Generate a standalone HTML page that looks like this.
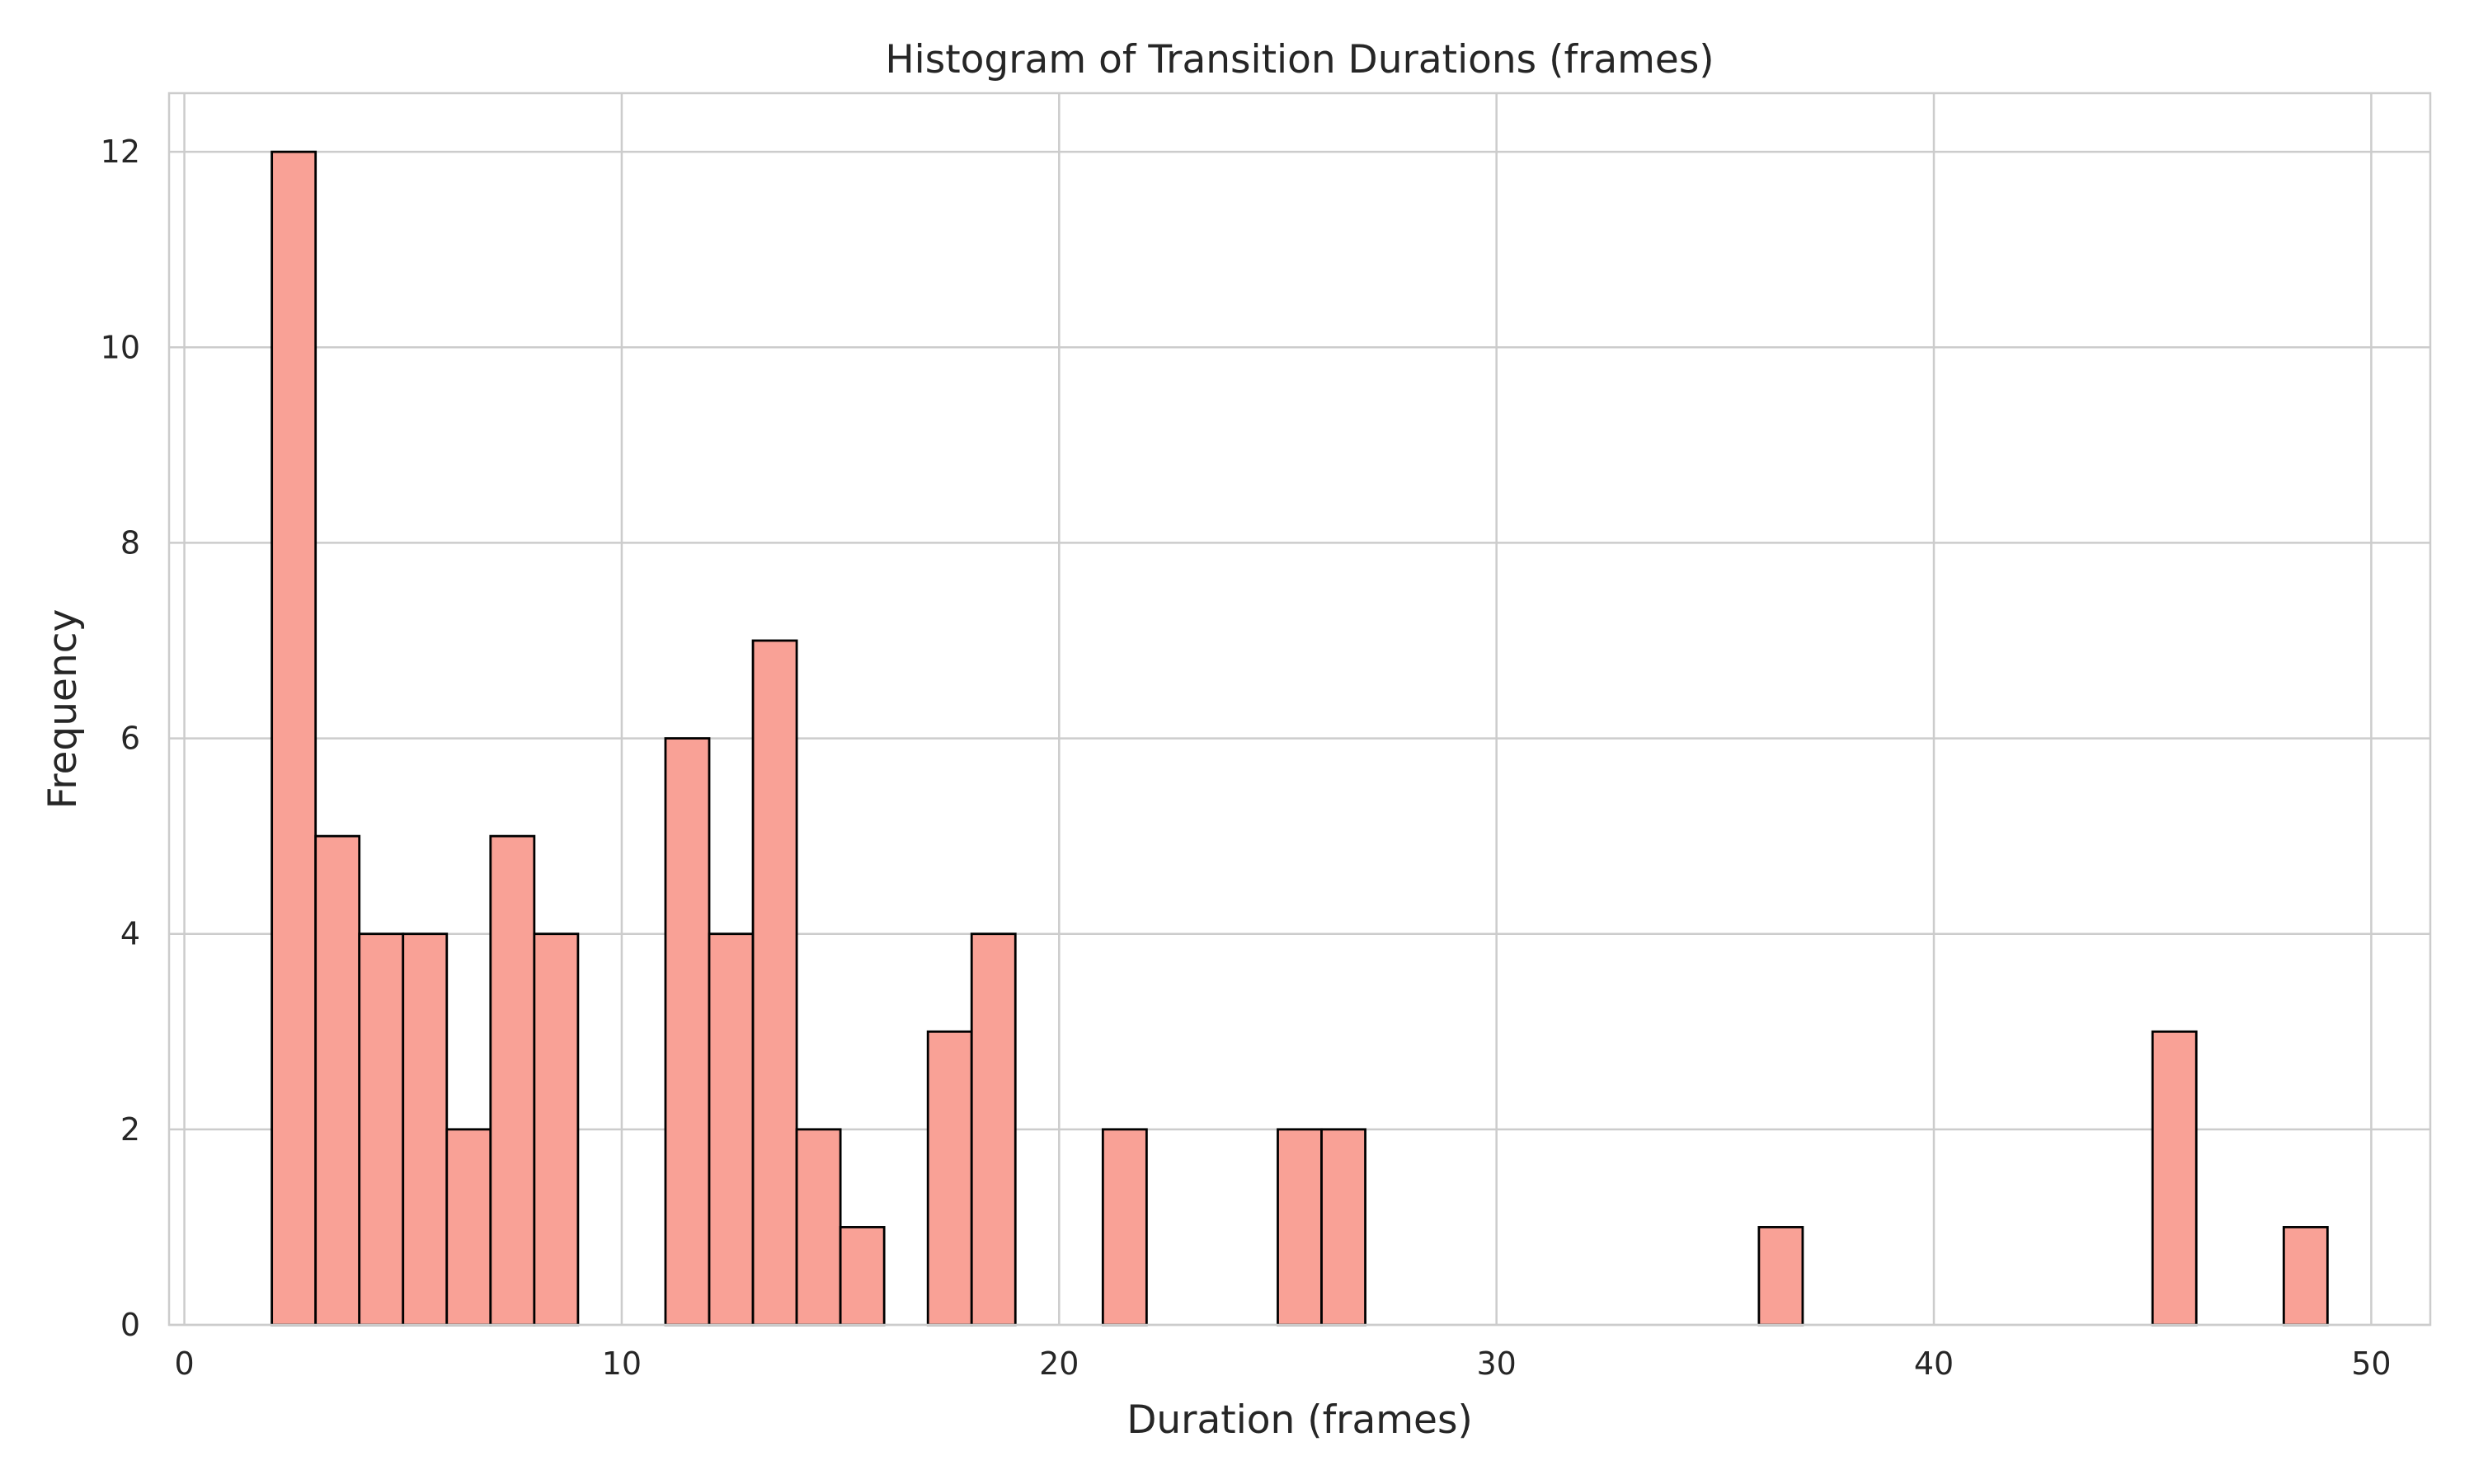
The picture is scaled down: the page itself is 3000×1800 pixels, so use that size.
<!DOCTYPE html>
<html><head><meta charset="utf-8"><style>
html,body{margin:0;padding:0;background:#fff;}
svg{display:block;font-family:"DejaVu Sans","Liberation Sans",sans-serif;}
</style></head><body>
<svg id="chart" width="3000" height="1800" xmlns="http://www.w3.org/2000/svg"></svg>
<script>
const binStarts = [2,3,4,5,6,7,8,11,12,13,14,15,17,18,21,25,26,36,45,48];
const binCounts = [12,5,4,4,2,5,4,6,4,7,2,1,3,4,2,2,2,1,3,1];
const xTicks = [0,10,20,30,40,50];
const yTicks = [0,2,4,6,8,10,12];
const binWidth = 1;

const svg = document.getElementById('chart');
const NS = 'http://www.w3.org/2000/svg';
const L = 205, R = 2947, T = 113, B = 1607;
const xMin = -0.35, xMax = 51.35, yMin = 0, yMax = 12.6;
const xs = v => L + (v - xMin) / (xMax - xMin) * (R - L);
const ys = v => B - (v - yMin) / (yMax - yMin) * (B - T);
function mk(tag, attrs, parent) {
  const e = document.createElementNS(NS, tag);
  for (const k in attrs) e.setAttribute(k, attrs[k]);
  (parent || svg).appendChild(e);
  return e;
}
const grid = mk('g', {});


xTicks.forEach(t => {
  const l = mk('line', {x1: xs(t), x2: xs(t), y1: T, y2: B, stroke: '#cccccc', 'stroke-width': 2.5}, grid);
  
  
  const tx = mk('text', {x: xs(t), y: B + 60, 'font-size': 38, fill: '#262626', 'text-anchor': 'middle'});
  tx.textContent = t;
  
  
});
yTicks.forEach(t => {
  const l = mk('line', {x1: L, x2: R, y1: ys(t), y2: ys(t), stroke: '#cccccc', 'stroke-width': 2.5}, grid);
  
  
  const tx = mk('text', {x: 170, y: ys(t) + 13, 'font-size': 38, fill: '#262626', 'text-anchor': 'end'});
  tx.textContent = t;
  
  
});
const bars = mk('g', {});


binStarts.forEach((s, i) => {
  const x0 = xs(s), x1 = xs(s + binWidth), y = ys(binCounts[i]);
  const r = mk('rect', {x: x0, y: y, width: x1 - x0, height: ys(0) - y, fill: '#f9a196', stroke: '#000', 'stroke-width': 2.8}, bars);
  
  
});
const frame = mk('rect', {x: L, y: T, width: R - L, height: B - T, fill: 'none', stroke: '#cccccc', 'stroke-width': 2.5});


const title = mk('text', {x: (L + R) / 2, y: 88, 'font-size': 47, fill: '#262626', 'text-anchor': 'middle'});
title.textContent = 'Histogram of Transition Durations (frames)';


const xl = mk('text', {x: (L + R) / 2, y: 1738, 'font-size': 47, fill: '#262626', 'text-anchor': 'middle'});
xl.textContent = 'Duration (frames)';


const yl = mk('text', {x: 0, y: 0, 'font-size': 47, fill: '#262626', 'text-anchor': 'middle', transform: `translate(92,${(T + B) / 2}) rotate(-90)`});
yl.textContent = 'Frequency';


</script>
</body></html>
